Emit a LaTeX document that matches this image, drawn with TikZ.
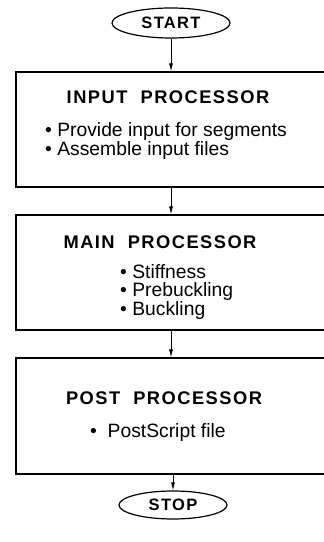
\documentclass[tikz,border=0pt]{standalone}
\usepackage{fontspec}
\setmainfont{Liberation Sans}
\newfontfamily\headfont{Liberation Sans}[LetterSpace=8]
\usetikzlibrary{shapes.geometric,arrows.meta}
\tikzset{
    proc/.style={draw,line width=1.2pt,minimum width=310pt,minimum height=115pt,inner sep=0pt},
    term/.style={draw,ellipse,line width=1.2pt,inner sep=0pt,font=\headfont\bfseries\fontsize{16.5}{16.5}\selectfont},
    head/.style={inner sep=0pt,font=\headfont\bfseries\fontsize{18.3}{18.3}\selectfont},
    items/.style={inner sep=0pt,anchor=west,align=left,font=\fontsize{19.3}{17.8}\selectfont},
    flow/.style={line width=0.8pt,-{Latex[length=8pt,width=4pt]}}
}
\begin{document}
\begin{tikzpicture}[x=1pt,y=1pt]
    \useasboundingbox (0,0) rectangle (324,542);
    \clip (0,0) rectangle (324,542);
    \node [term,minimum width=118pt,minimum height=30pt] (start) at (171,519) {START};
    \node [proc] (inbox) at (171,412.5) {};
    \node [proc] (mainbox) at (171,269.5) {};
    \node [proc,minimum height=116pt] (postbox) at (171,126) {};
    \node [term,minimum width=108pt,minimum height=28pt] (stop) at (173,37) {STOP};
    \node [head] (inhead) at (168,445) {INPUT\ \ PROCESSOR};
    \node [items] (inlist) at (45,401) {• Provide input for segments\\• Assemble input files};
    \node [head] (mainhead) at (160,300) {MAIN\ \ PROCESSOR};
    \node [items] (mainlist) at (120,250) {• Stiffness\\• Prebuckling\\• Buckling};
    \node [head] (posthead) at (164,144) {POST\ \ PROCESSOR};
    \node [items] (postlist) at (90,109) {•\ \ PostScript file};
    \draw [flow] (start) -- (inbox);
    \draw [flow] (inbox) -- (mainbox);
    \draw [flow] (mainbox) -- (postbox);
    \draw [flow] (postbox.south -| stop) -- (stop);
\end{tikzpicture}
\end{document}
